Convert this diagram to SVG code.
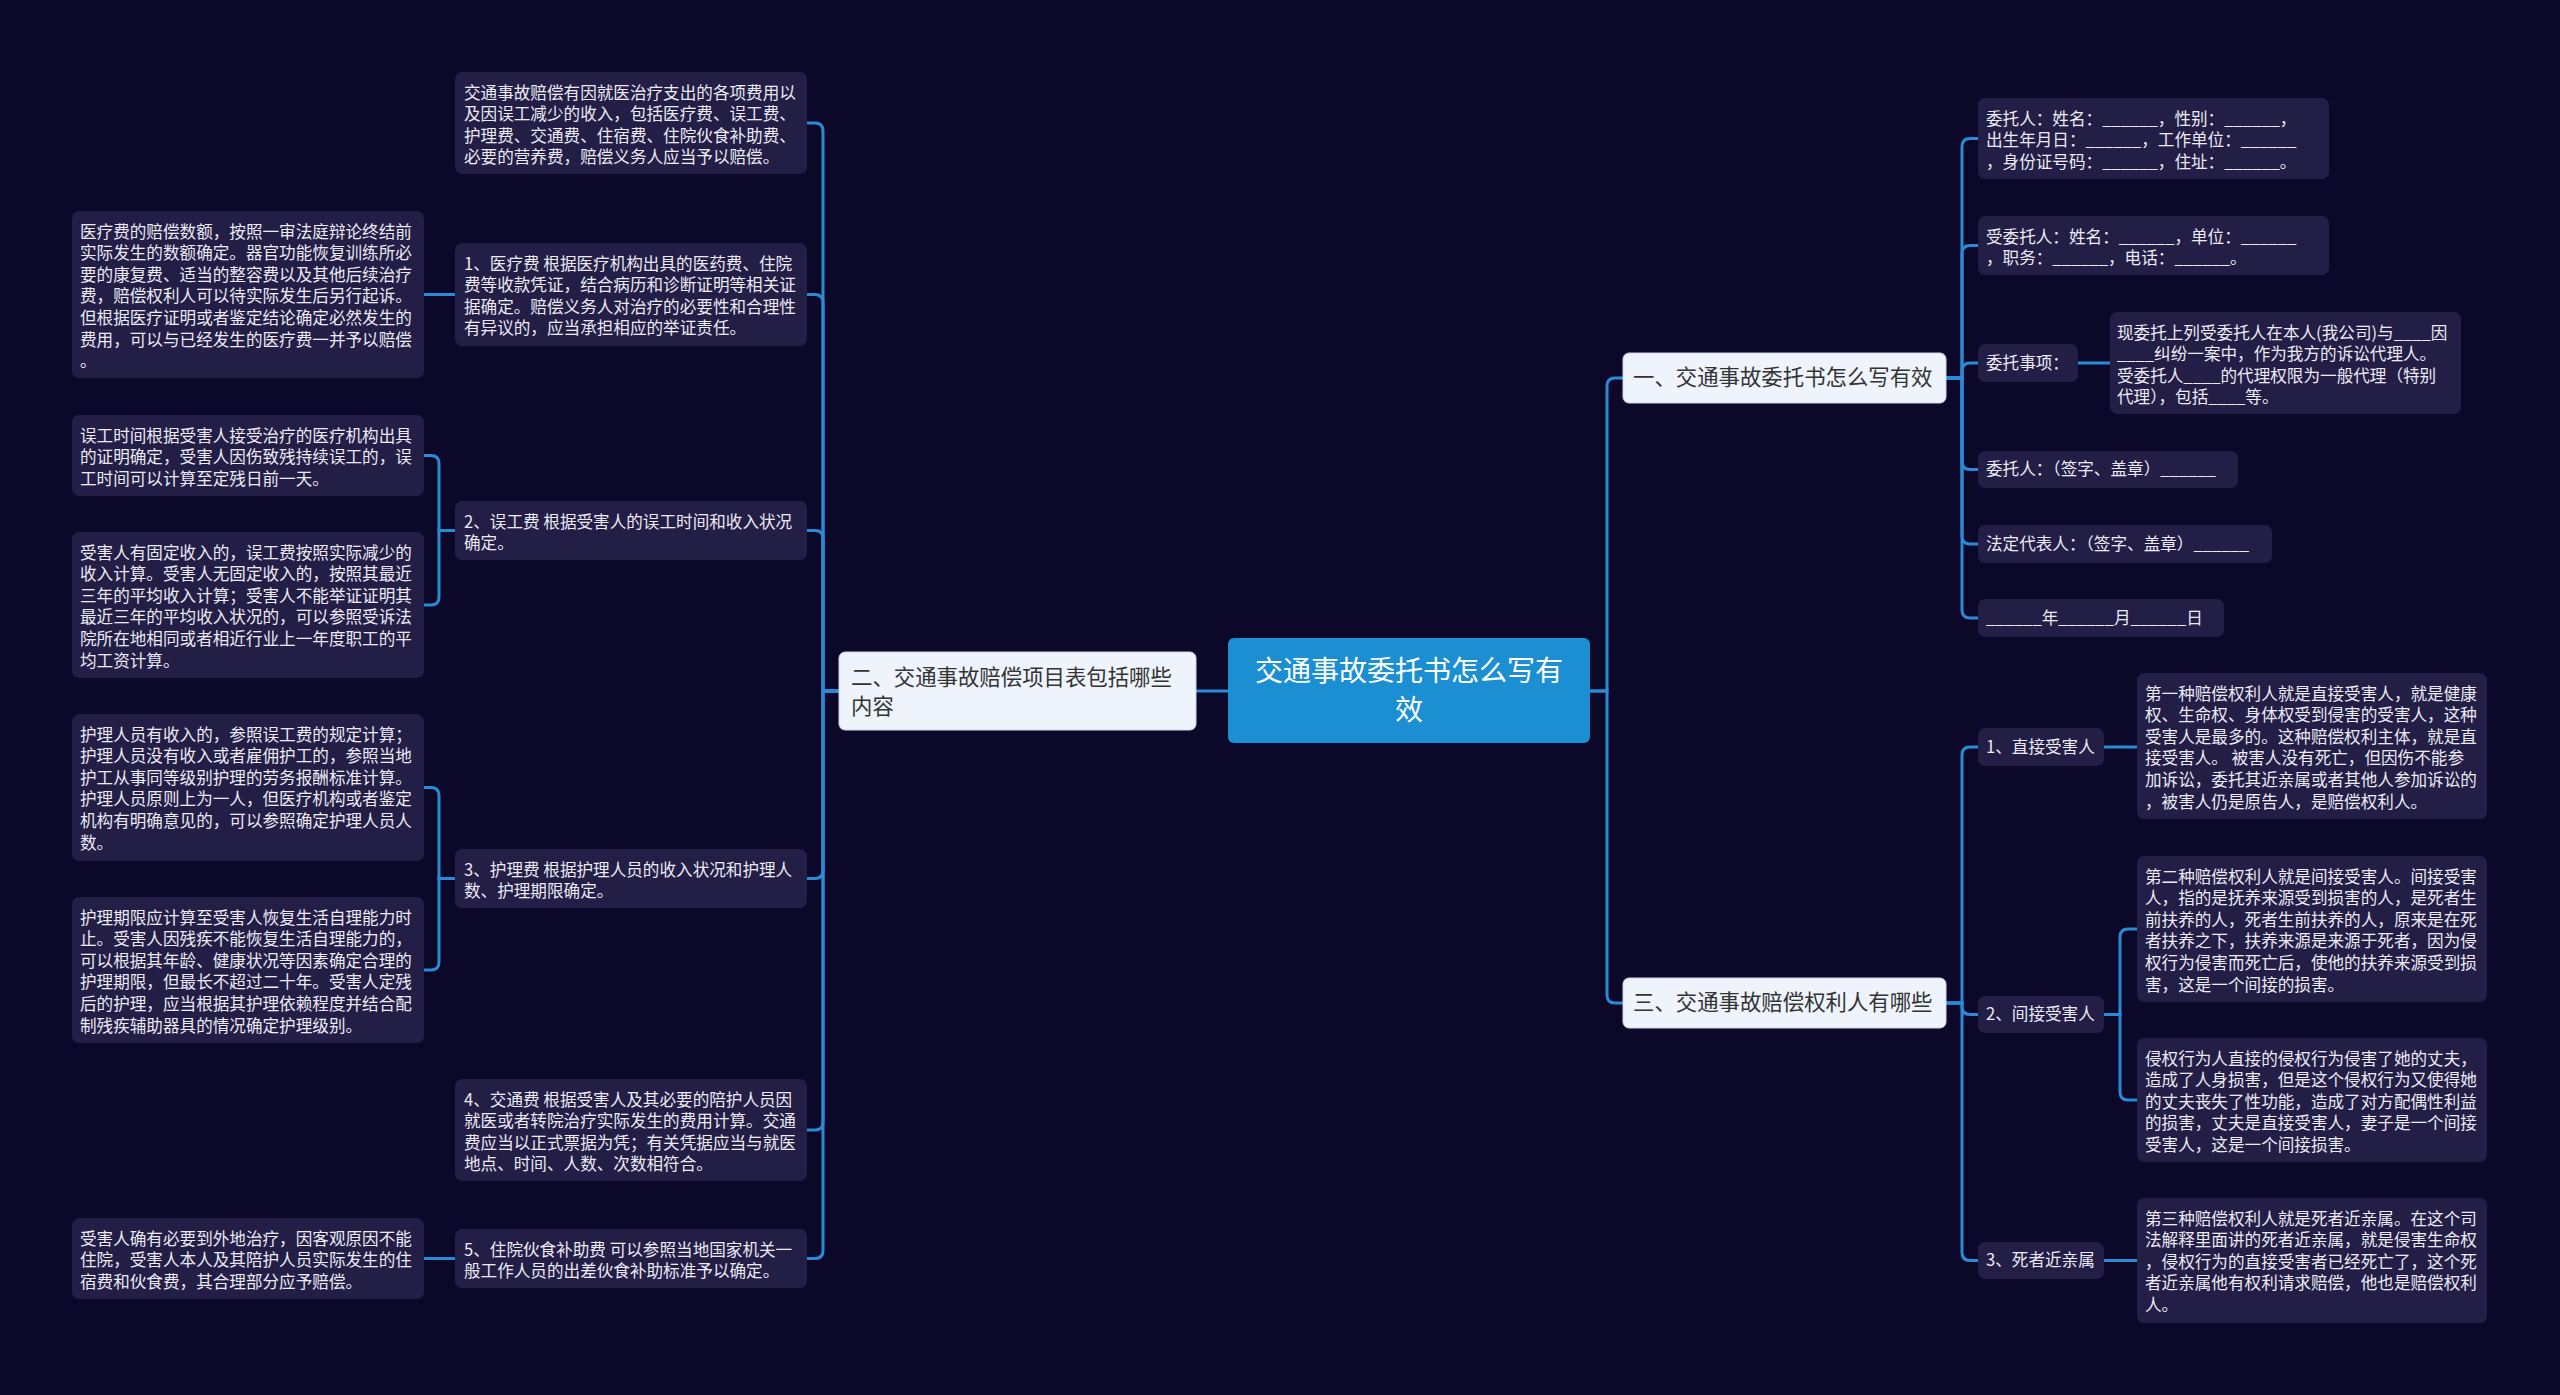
<svg xmlns="http://www.w3.org/2000/svg" width="2560" height="1395" viewBox="0 0 2560 1395">
<style>
.bg{fill:#0b0829}
.n{fill:#221e46}
.sec{fill:#eef3fc;stroke:#c9d3e6;stroke-width:1}
.root{fill:#1b8fd2}
.c{fill:none;stroke:#2b8ad6;stroke-width:3;stroke-linecap:round}
text{font-family:"Noto Sans CJK SC","Noto Sans",sans-serif;dominant-baseline:central}
.t{font-size:16.6px;fill:#eceaf4;transform:translateY(-1.5px)}
.s{font-size:21.4px;fill:#333333;transform:translateY(-3px)}
.r{font-size:28px;fill:#ffffff;text-anchor:middle;transform:translateY(-4px)}
</style>
<rect class="bg" x="0" y="0" width="2560" height="1395"/>

<g id="connectors">
<path class="c" d="M1228,691 H1196"/>
<path class="c" d="M839,691 H823 V131 Q823,123 815,123 H807"/>
<path class="c" d="M839,691 H823 V302.5 Q823,294.5 815,294.5 H807"/>
<path class="c" d="M839,691 H823 V538.5 Q823,530.5 815,530.5 H807"/>
<path class="c" d="M839,691 H823 V870.5 Q823,878.5 815,878.5 H807"/>
<path class="c" d="M839,691 H823 V1122 Q823,1130 815,1130 H807"/>
<path class="c" d="M839,691 H823 V1250.5 Q823,1258.5 815,1258.5 H807"/>
<path class="c" d="M455,294.5 H424"/>
<path class="c" d="M455,530.5 H439 V463.5 Q439,455.5 431,455.5 H424"/>
<path class="c" d="M455,530.5 H439 V597 Q439,605 431,605 H424"/>
<path class="c" d="M455,878.5 H439 V795.5 Q439,787.5 431,787.5 H424"/>
<path class="c" d="M455,878.5 H439 V962 Q439,970 431,970 H424"/>
<path class="c" d="M455,1258.5 H424"/>
<path class="c" d="M1590,691 H1607 V386 Q1607,378 1615,378 H1623"/>
<path class="c" d="M1590,691 H1607 V995 Q1607,1003 1615,1003 H1623"/>
<path class="c" d="M1946,378 H1962 V146.5 Q1962,138.5 1970,138.5 H1978"/>
<path class="c" d="M1946,378 H1962 V253.5 Q1962,245.5 1970,245.5 H1978"/>
<path class="c" d="M1946,378 H1962 V371 Q1962,363 1970,363 H1978"/>
<path class="c" d="M1946,378 H1962 V461.5 Q1962,469.5 1970,469.5 H1978"/>
<path class="c" d="M1946,378 H1962 V536 Q1962,544 1970,544 H1978"/>
<path class="c" d="M1946,378 H1962 V610 Q1962,618 1970,618 H1978"/>
<path class="c" d="M2078,363 H2110"/>
<path class="c" d="M1946,1003 H1962 V755 Q1962,747 1970,747 H1978"/>
<path class="c" d="M1946,1003 H1962 V1006.5 Q1962,1014.5 1970,1014.5 H1978"/>
<path class="c" d="M1946,1003 H1962 V1252.5 Q1962,1260.5 1970,1260.5 H1978"/>
<path class="c" d="M2104,747 H2137"/>
<path class="c" d="M2104,1014.5 H2120 V937 Q2120,929 2128,929 H2137"/>
<path class="c" d="M2104,1014.5 H2120 V1092 Q2120,1100 2128,1100 H2137"/>
<path class="c" d="M2104,1260.5 H2137"/>
</g>

<g id="root">
<rect class="root" x="1228" y="638" width="362" height="105" rx="6"/>
<text class="r"><tspan x="1409" y="673">交通事故委托书怎么写有</tspan><tspan x="1409" y="712">效</tspan></text>
</g>

<g id="b2">
<rect class="sec" x="839" y="652" width="357" height="78" rx="6"/>
<text class="s"><tspan x="851" y="678">二、交通事故赔偿项目表包括哪些</tspan><tspan x="851" y="707">内容</tspan></text>
</g>

<g id="a1">
<rect class="n" x="455" y="72" width="352" height="102" rx="7"/>
<text class="t"><tspan x="464" y="93">交通事故赔偿有因就医治疗支出的各项费用以</tspan><tspan x="464" y="114.6">及因误工减少的收入，包括医疗费、误工费、</tspan><tspan x="464" y="136.2">护理费、交通费、住宿费、住院伙食补助费、</tspan><tspan x="464" y="157.8">必要的营养费，赔偿义务人应当予以赔偿。</tspan></text>
</g>

<g id="a2">
<rect class="n" x="455" y="243" width="352" height="103" rx="7"/>
<text class="t"><tspan x="464" y="264">1、医疗费 根据医疗机构出具的医药费、住院</tspan><tspan x="464" y="285.6">费等收款凭证，结合病历和诊断证明等相关证</tspan><tspan x="464" y="307.2">据确定。赔偿义务人对治疗的必要性和合理性</tspan><tspan x="464" y="328.8">有异议的，应当承担相应的举证责任。</tspan></text>
</g>

<g id="l1a">
<rect class="n" x="72" y="211" width="352" height="167" rx="7"/>
<text class="t"><tspan x="80" y="232">医疗费的赔偿数额，按照一审法庭辩论终结前</tspan><tspan x="80" y="253.6">实际发生的数额确定。器官功能恢复训练所必</tspan><tspan x="80" y="275.2">要的康复费、适当的整容费以及其他后续治疗</tspan><tspan x="80" y="296.8">费，赔偿权利人可以待实际发生后另行起诉。</tspan><tspan x="80" y="318.4">但根据医疗证明或者鉴定结论确定必然发生的</tspan><tspan x="80" y="340">费用，可以与已经发生的医疗费一并予以赔偿</tspan><tspan x="80" y="361.6">。</tspan></text>
</g>

<g id="a3">
<rect class="n" x="455" y="501" width="352" height="59" rx="7"/>
<text class="t"><tspan x="464" y="522">2、误工费 根据受害人的误工时间和收入状况</tspan><tspan x="464" y="543.6">确定。</tspan></text>
</g>

<g id="l2a">
<rect class="n" x="72" y="415" width="352" height="81" rx="7"/>
<text class="t"><tspan x="80" y="436">误工时间根据受害人接受治疗的医疗机构出具</tspan><tspan x="80" y="457.6">的证明确定，受害人因伤致残持续误工的，误</tspan><tspan x="80" y="479.2">工时间可以计算至定残日前一天。</tspan></text>
</g>

<g id="l2b">
<rect class="n" x="72" y="532" width="352" height="146" rx="7"/>
<text class="t"><tspan x="80" y="553">受害人有固定收入的，误工费按照实际减少的</tspan><tspan x="80" y="574.6">收入计算。受害人无固定收入的，按照其最近</tspan><tspan x="80" y="596.2">三年的平均收入计算；受害人不能举证证明其</tspan><tspan x="80" y="617.8">最近三年的平均收入状况的，可以参照受诉法</tspan><tspan x="80" y="639.4">院所在地相同或者相近行业上一年度职工的平</tspan><tspan x="80" y="661">均工资计算。</tspan></text>
</g>

<g id="a4">
<rect class="n" x="455" y="849" width="352" height="59" rx="7"/>
<text class="t"><tspan x="464" y="870">3、护理费 根据护理人员的收入状况和护理人</tspan><tspan x="464" y="891.6">数、护理期限确定。</tspan></text>
</g>

<g id="l3a">
<rect class="n" x="72" y="714" width="352" height="147" rx="7"/>
<text class="t"><tspan x="80" y="735">护理人员有收入的，参照误工费的规定计算；</tspan><tspan x="80" y="756.6">护理人员没有收入或者雇佣护工的，参照当地</tspan><tspan x="80" y="778.2">护工从事同等级别护理的劳务报酬标准计算。</tspan><tspan x="80" y="799.8">护理人员原则上为一人，但医疗机构或者鉴定</tspan><tspan x="80" y="821.4">机构有明确意见的，可以参照确定护理人员人</tspan><tspan x="80" y="843">数。</tspan></text>
</g>

<g id="l3b">
<rect class="n" x="72" y="897" width="352" height="146" rx="7"/>
<text class="t"><tspan x="80" y="918">护理期限应计算至受害人恢复生活自理能力时</tspan><tspan x="80" y="939.6">止。受害人因残疾不能恢复生活自理能力的，</tspan><tspan x="80" y="961.2">可以根据其年龄、健康状况等因素确定合理的</tspan><tspan x="80" y="982.8">护理期限，但最长不超过二十年。受害人定残</tspan><tspan x="80" y="1004.4">后的护理，应当根据其护理依赖程度并结合配</tspan><tspan x="80" y="1026">制残疾辅助器具的情况确定护理级别。</tspan></text>
</g>

<g id="a5">
<rect class="n" x="455" y="1079" width="352" height="102" rx="7"/>
<text class="t"><tspan x="464" y="1100">4、交通费 根据受害人及其必要的陪护人员因</tspan><tspan x="464" y="1121.6">就医或者转院治疗实际发生的费用计算。交通</tspan><tspan x="464" y="1143.2">费应当以正式票据为凭；有关凭据应当与就医</tspan><tspan x="464" y="1164.8">地点、时间、人数、次数相符合。</tspan></text>
</g>

<g id="a6">
<rect class="n" x="455" y="1229" width="352" height="59" rx="7"/>
<text class="t"><tspan x="464" y="1250">5、住院伙食补助费 可以参照当地国家机关一</tspan><tspan x="464" y="1271.6">般工作人员的出差伙食补助标准予以确定。</tspan></text>
</g>

<g id="l5a">
<rect class="n" x="72" y="1218" width="352" height="81" rx="7"/>
<text class="t"><tspan x="80" y="1239">受害人确有必要到外地治疗，因客观原因不能</tspan><tspan x="80" y="1260.6">住院，受害人本人及其陪护人员实际发生的住</tspan><tspan x="80" y="1282.2">宿费和伙食费，其合理部分应予赔偿。</tspan></text>
</g>

<g id="b1">
<rect class="sec" x="1623" y="353" width="323" height="50" rx="6"/>
<text class="s" x="1633" y="378">一、交通事故委托书怎么写有效</text>
</g>

<g id="r1a">
<rect class="n" x="1978" y="98" width="351" height="81" rx="7"/>
<text class="t"><tspan x="1986" y="119">委托人：姓名：______，性别：______，</tspan><tspan x="1986" y="140.6">出生年月日：______，工作单位：______</tspan><tspan x="1986" y="162.2">，身份证号码：______，住址：______。</tspan></text>
</g>

<g id="r1b">
<rect class="n" x="1978" y="216" width="351" height="59" rx="7"/>
<text class="t"><tspan x="1986" y="237">受委托人：姓名：______，单位：______</tspan><tspan x="1986" y="258.6">，职务：______，电话：______。</tspan></text>
</g>

<g id="r1c">
<rect class="n" x="1978" y="344" width="100" height="38" rx="7"/>
<text class="t" x="1986" y="363">委托事项：</text>
</g>

<g id="r1c-detail">
<rect class="n" x="2110" y="312" width="351" height="102" rx="7"/>
<text class="t"><tspan x="2117" y="333">现委托上列受委托人在本人(我公司)与____因</tspan><tspan x="2117" y="354.6">____纠纷一案中，作为我方的诉讼代理人。</tspan><tspan x="2117" y="376.2">受委托人____的代理权限为一般代理（特别</tspan><tspan x="2117" y="397.8">代理），包括____等。</tspan></text>
</g>

<g id="r1d">
<rect class="n" x="1978" y="451" width="260" height="37" rx="7"/>
<text class="t" x="1986" y="469.5">委托人：（签字、盖章）______</text>
</g>

<g id="r1e">
<rect class="n" x="1978" y="525" width="294" height="38" rx="7"/>
<text class="t" x="1986" y="544">法定代表人：（签字、盖章）______</text>
</g>

<g id="r1f">
<rect class="n" x="1978" y="599" width="246" height="38" rx="7"/>
<text class="t" x="1986" y="618">______年______月______日</text>
</g>

<g id="b3">
<rect class="sec" x="1623" y="978" width="323" height="50" rx="6"/>
<text class="s" x="1633" y="1003">三、交通事故赔偿权利人有哪些</text>
</g>

<g id="r3a">
<rect class="n" x="1978" y="728" width="126" height="38" rx="7"/>
<text class="t" x="1986" y="747">1、直接受害人</text>
</g>

<g id="r3a-detail">
<rect class="n" x="2137" y="673" width="350" height="146" rx="7"/>
<text class="t"><tspan x="2145" y="694">第一种赔偿权利人就是直接受害人，就是健康</tspan><tspan x="2145" y="715.6">权、生命权、身体权受到侵害的受害人，这种</tspan><tspan x="2145" y="737.2">受害人是最多的。这种赔偿权利主体，就是直</tspan><tspan x="2145" y="758.8">接受害人。 被害人没有死亡，但因伤不能参</tspan><tspan x="2145" y="780.4">加诉讼，委托其近亲属或者其他人参加诉讼的</tspan><tspan x="2145" y="802">，被害人仍是原告人，是赔偿权利人。</tspan></text>
</g>

<g id="r3b">
<rect class="n" x="1978" y="996" width="126" height="37" rx="7"/>
<text class="t" x="1986" y="1014.5">2、间接受害人</text>
</g>

<g id="r3b-detail1">
<rect class="n" x="2137" y="856" width="350" height="146" rx="7"/>
<text class="t"><tspan x="2145" y="877">第二种赔偿权利人就是间接受害人。间接受害</tspan><tspan x="2145" y="898.6">人，指的是抚养来源受到损害的人，是死者生</tspan><tspan x="2145" y="920.2">前扶养的人，死者生前扶养的人，原来是在死</tspan><tspan x="2145" y="941.8">者扶养之下，扶养来源是来源于死者，因为侵</tspan><tspan x="2145" y="963.4">权行为侵害而死亡后，使他的扶养来源受到损</tspan><tspan x="2145" y="985">害，这是一个间接的损害。</tspan></text>
</g>

<g id="r3b-detail2">
<rect class="n" x="2137" y="1038" width="350" height="124" rx="7"/>
<text class="t"><tspan x="2145" y="1059">侵权行为人直接的侵权行为侵害了她的丈夫，</tspan><tspan x="2145" y="1080.6">造成了人身损害，但是这个侵权行为又使得她</tspan><tspan x="2145" y="1102.2">的丈夫丧失了性功能，造成了对方配偶性利益</tspan><tspan x="2145" y="1123.8">的损害，丈夫是直接受害人，妻子是一个间接</tspan><tspan x="2145" y="1145.4">受害人，这是一个间接损害。</tspan></text>
</g>

<g id="r3c">
<rect class="n" x="1978" y="1242" width="126" height="37" rx="7"/>
<text class="t" x="1986" y="1260.5">3、死者近亲属</text>
</g>

<g id="r3c-detail">
<rect class="n" x="2137" y="1198" width="350" height="125" rx="7"/>
<text class="t"><tspan x="2145" y="1219">第三种赔偿权利人就是死者近亲属。在这个司</tspan><tspan x="2145" y="1240.6">法解释里面讲的死者近亲属，就是侵害生命权</tspan><tspan x="2145" y="1262.2">，侵权行为的直接受害者已经死亡了，这个死</tspan><tspan x="2145" y="1283.8">者近亲属他有权利请求赔偿，他也是赔偿权利</tspan><tspan x="2145" y="1305.4">人。</tspan></text>
</g>
</svg>
